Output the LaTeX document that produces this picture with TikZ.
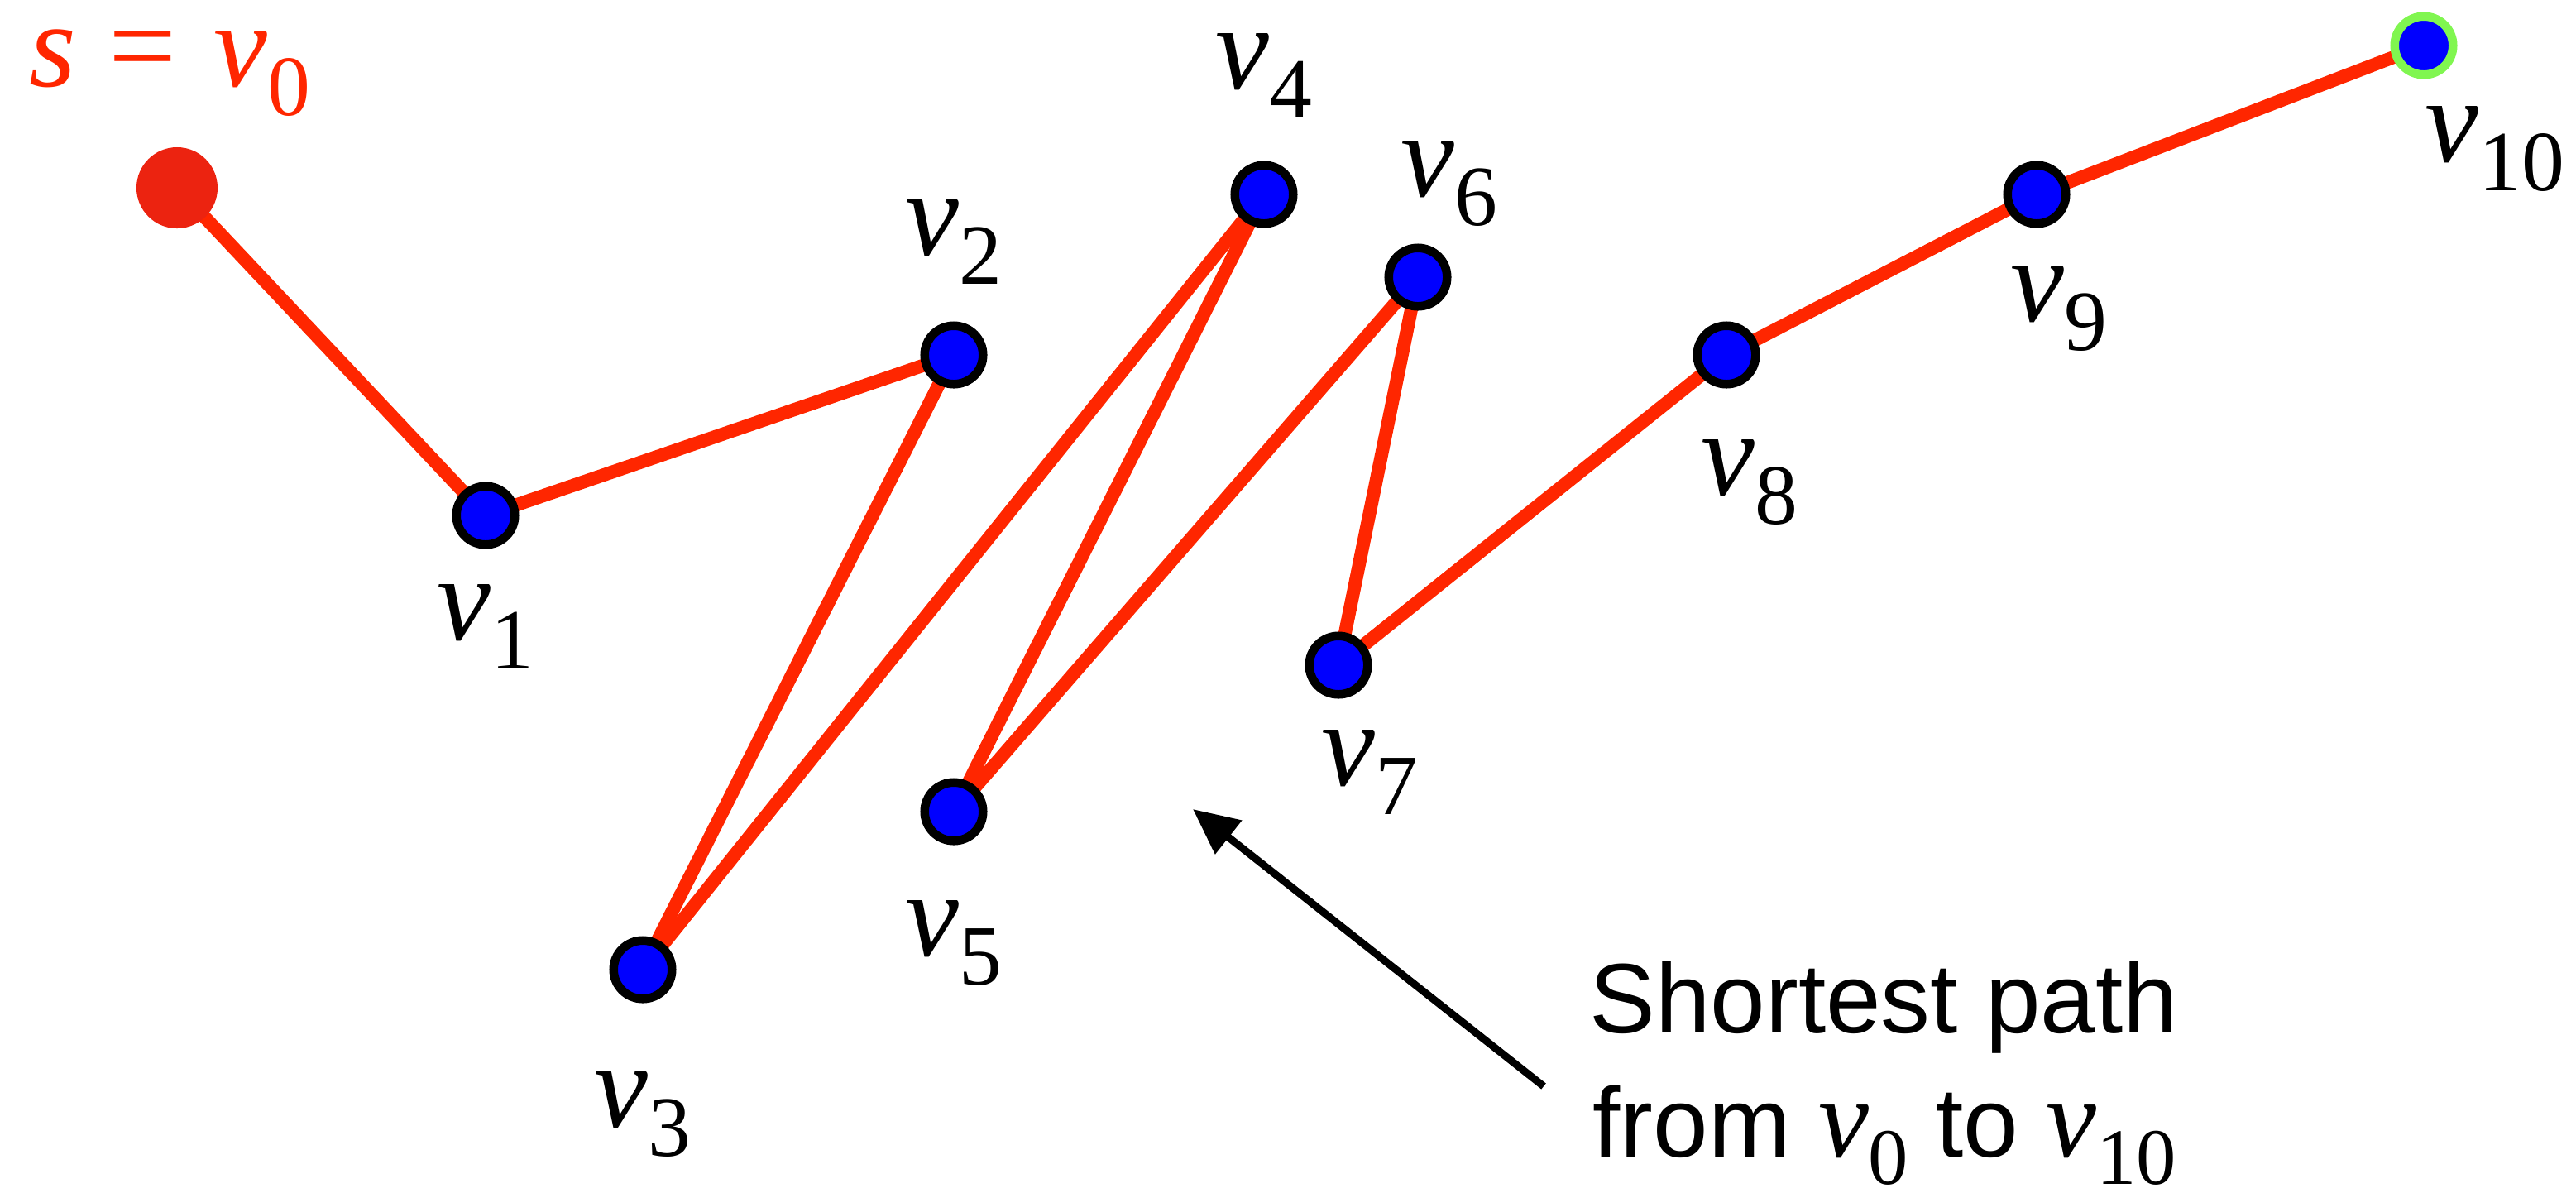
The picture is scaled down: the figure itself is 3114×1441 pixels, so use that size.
\documentclass[tikz,border=0pt]{standalone}
\usepackage{fontspec}
\setmainfont{Liberation Serif}
\newfontfamily\annfont{Liberation Sans}
\usetikzlibrary{arrows.meta,backgrounds}
\definecolor{edgered}{RGB}{255,38,0}
\definecolor{dotred}{RGB}{236,35,16}
\definecolor{nodeblue}{RGB}{0,0,255}
\definecolor{ringgreen}{RGB}{128,246,80}
\newcommand{\vlab}[1]{\textit{v}\raisebox{-0.35cm}{\fontsize{29.5}{30}\selectfont #1}}
\newcommand{\vann}[1]{{\fontsize{39}{40}\selectfont\rmfamily\textit{v}\raisebox{-0.33cm}{\fontsize{27.5}{28}\selectfont #1}}}
\begin{document}
\begin{tikzpicture}[x=0.01cm,y=-0.01cm,
 vtx/.style={circle,draw=black,fill=nodeblue,line width=0.105cm,minimum size=0.705cm,inner sep=0pt},
 src/.style={circle,fill=dotred,minimum size=0.98cm,inner sep=0pt},
 edge/.style={draw=edgered,line width=0.16cm},
 lab/.style={anchor=base west,inner sep=0pt,font=\fontsize{41.5}{50}\selectfont},
 ann/.style={anchor=base west,inner sep=0pt,font=\annfont\fontsize{34}{40}\selectfont},
 pointer/.style={draw=black,line width=0.09cm,-{Triangle[length=0.55cm,width=0.5cm]}}]
\useasboundingbox (0,0) rectangle (3114,1441);
% vertices
\node[src] (v0) at (214,227) {};
\node[vtx] (v1) at (587,623) {};
\node[vtx] (v2) at (1153,429) {};
\node[vtx] (v3) at (777,1172) {};
\node[vtx] (v4) at (1528,235) {};
\node[vtx] (v5) at (1153,981) {};
\node[vtx] (v6) at (1714,335) {};
\node[vtx] (v7) at (1618,804) {};
\node[vtx] (v8) at (2087,429) {};
\node[vtx] (v9) at (2462,235) {};
\node[vtx,draw=ringgreen] (v10) at (2930,55) {};
% edges
\begin{scope}[on background layer]
\draw[edge] (v0.center) -- (v1.center);
\draw[edge] (v1.center) -- (v2.center);
\draw[edge] (v2.center) -- (v3.center);
\draw[edge] (v3.center) -- (v4.center);
\draw[edge] (v4.center) -- (v5.center);
\draw[edge] (v5.center) -- (v6.center);
\draw[edge] (v6.center) -- (v7.center);
\draw[edge] (v7.center) -- (v8.center);
\draw[edge] (v8.center) -- (v9.center);
\draw[edge] (v9.center) -- (v10.center);
\end{scope}
% labels
\node[lab,text=edgered] (l0) at (35,104) {\textit{s}\kern0.39cm=\kern0.45cm\vlab{0}};
\node[lab] (l1) at (528,773) {\vlab{1}};
\node[lab] (l2) at (1094,308) {\vlab{2}};
\node[lab] (l3) at (718,1362) {\vlab{3}};
\node[lab] (l4) at (1469,107) {\vlab{4}};
\node[lab] (l5) at (1094,1155) {\vlab{5}};
\node[lab] (l6) at (1693,237) {\vlab{6}};
\node[lab] (l7) at (1597,949) {\vlab{7}};
\node[lab] (l8) at (2056,598) {\vlab{8}};
\node[lab] (l9) at (2430,388) {\vlab{9}};
\node[lab] (l10) at (2931,195) {\vlab{10}};
% annotation
\coordinate (atail) at (1866,1313);
\coordinate (ahead) at (1442,978);
\draw[pointer] (atail) -- (ahead);
\node[ann] (t1) at (1921,1248) {Shortest path};
\node[ann] (t2) at (1925,1398) {from \vann{0} to \vann{10}};
\end{tikzpicture}
\end{document}
